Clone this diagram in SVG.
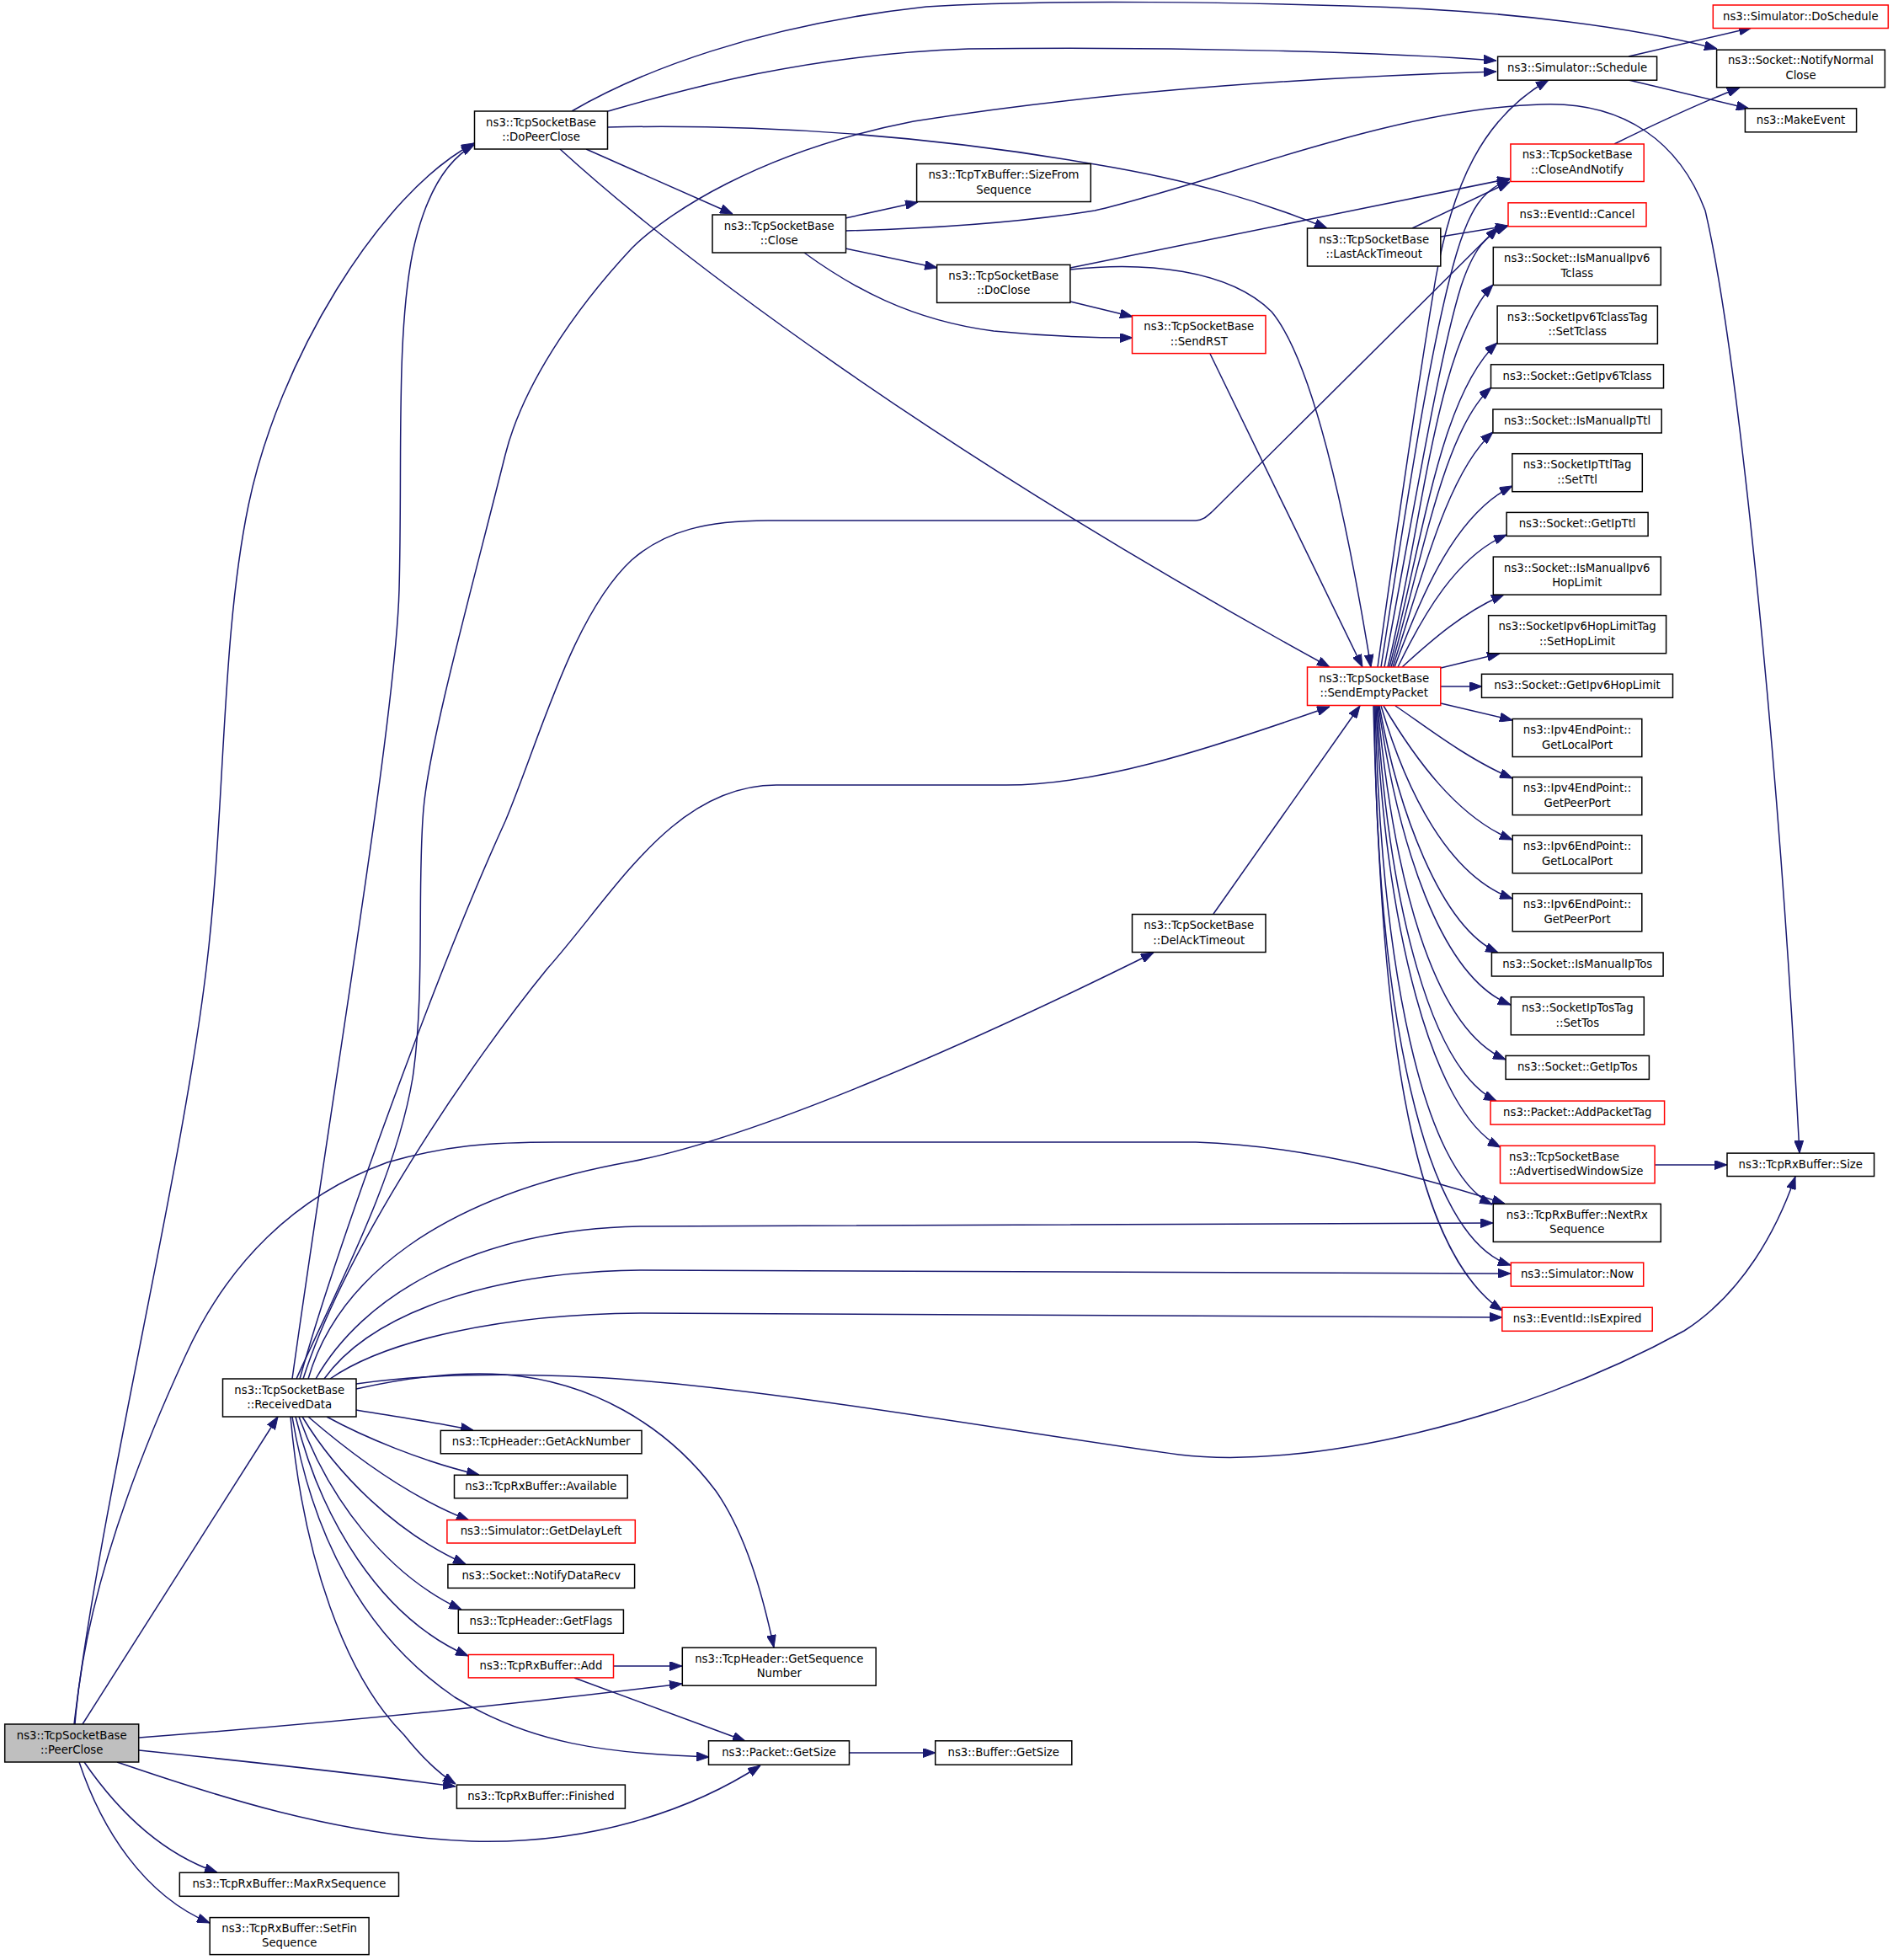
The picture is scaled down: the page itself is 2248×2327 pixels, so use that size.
<svg xmlns="http://www.w3.org/2000/svg" width="2248" height="2327" viewBox="0 0 2248 2327">
<defs>
<marker id="a" markerUnits="userSpaceOnUse" markerWidth="15" markerHeight="11" viewBox="0 0 15 11" refX="15" refY="5.5" orient="auto"><path d="M0,0 L15,5.5 L0,11 z" fill="#191970" stroke="#191970" stroke-width="1"/></marker>
</defs>
<style>
.n rect{fill:#fff;stroke:#000;stroke-width:1.5}
.r rect{fill:#fff;stroke:#ff0000;stroke-width:1.5}
.g rect{fill:#bfbfbf;stroke:#000;stroke-width:1.5}
text{font-family:"DejaVu Sans","Liberation Sans",sans-serif;font-size:13.25px;fill:#000;text-anchor:middle}
text.l{text-anchor:start}
#edges path{fill:none;stroke:#191970;stroke-width:1.5;marker-end:url(#a)}
</style>
<rect width="2248" height="2327" fill="#fff"/>
<g id="edges">
<path d="M88,2047 C120,1780 215,1400 245,1150 C268,960 262,760 295,600 C330,430 450,230 563,170"/>
<path d="M347,1637 C400,1260 470,850 474,700 C478,550 470,400 490,300 C505,230 530,190 563,172"/>
<path d="M352,1637 C400,1530 470,1400 490,1280 C505,1180 495,1050 503,960 C510,880 560,700 600,540 C620,460 680,370 750,295 C790,255 900,180 1085,144 C1300,110 1550,92 1777,85"/>
<path d="M356,1637 C400,1480 520,1150 600,975 C640,880 680,730 750,665 C790,630 840,618 912,618 L1420,618 C1428,618 1432,614 1440,607 L1779,270"/>
<path d="M360,1637 C410,1480 560,1260 650,1150 C730,1060 800,932 922,932 L1195,932 C1300,932 1420,895 1579,839"/>
<path d="M366,1637 C400,1520 520,1420 750,1379 C900,1350 1150,1240 1370,1131"/>
<path d="M375,1637 C430,1540 560,1460 760,1456 L1773,1452"/>
<path d="M385,1637 C440,1560 580,1510 760,1508 L1794,1512"/>
<path d="M392,1637 C460,1590 600,1560 760,1559 L1784,1564"/>
<path d="M423,1643 C500,1632 600,1630 700,1635 C900,1645 1200,1700 1400,1727 C1550,1745 1800,1690 2000,1580 C2070,1535 2110,1460 2132,1397"/>
<path d="M423,1649 C480,1636 540,1628 600,1632 C700,1640 790,1690 850,1770 C885,1820 905,1890 919,1956"/>
<path d="M423,1674 C470,1682 520,1689 562,1698"/>
<path d="M388,1682 C430,1705 500,1735 569,1751"/>
<path d="M366,1682 C410,1720 480,1775 557,1805"/>
<path d="M359,1682 C400,1750 470,1820 553,1857"/>
<path d="M355,1682 C390,1780 460,1870 548,1911"/>
<path d="M351,1682 C380,1800 450,1920 556,1966"/>
<path d="M347,1682 C370,1820 430,1940 540,2015 C630,2070 720,2082 842,2086"/>
<path d="M345,1682 C360,1850 410,1990 480,2060 C500,2085 520,2105 541,2118"/>
<path d="M98,2047 L330,1682"/>
<path d="M89,2047 C100,1900 160,1740 220,1610 C270,1500 350,1420 460,1380 C530,1360 580,1356 660,1356 L1420,1356 C1550,1360 1680,1395 1787,1429"/>
<path d="M165,2063 C400,2045 600,2025 810,1999"/>
<path d="M165,2078 C300,2092 430,2106 541,2121"/>
<path d="M139,2092 C250,2130 400,2180 560,2186 C700,2190 820,2150 903,2096"/>
<path d="M100,2092 C140,2150 190,2200 258,2223"/>
<path d="M94,2092 C120,2170 170,2250 249,2283"/>
<path d="M679,132 C760,85 900,30 1100,8 C1250,-2 1500,4 1600,7 C1800,12 1950,35 2039,58"/>
<path d="M722,132 C800,110 950,65 1150,58 C1400,55 1650,62 1777,72"/>
<path d="M722,151 C900,147 1100,160 1300,195 C1420,215 1500,240 1576,271"/>
<path d="M696,177 L870,254"/>
<path d="M665,177 C800,300 1100,530 1579,792"/>
<path d="M1004,259 L1090,240"/>
<path d="M1004,295 L1113,318"/>
<path d="M955,300 C1010,340 1080,380 1180,393 C1250,400 1300,401 1345,401"/>
<path d="M1004,274 C1150,270 1250,258 1300,250 C1450,215 1650,130 1830,124 C1930,120 1995,170 2025,250 C2060,400 2110,850 2137,1369"/>
<path d="M1271,358 L1345,376"/>
<path d="M1271,318 L1793,212"/>
<path d="M1271,320 C1360,310 1460,320 1510,370 C1560,430 1600,620 1628,792"/>
<path d="M1437,420 L1618,792"/>
<path d="M1441,1085 L1615,838"/>
<path d="M1677,271 L1793,216"/>
<path d="M1711,281 L1791,268"/>
<path d="M1934,67 L2080,33"/>
<path d="M1934,95 L2077,129"/>
<path d="M1917,171 C1970,145 2020,122 2066,104"/>
<path d="M1965,1383 L2051,1383"/>
<path d="M729,1978 L810,1978"/>
<path d="M682,1992 L885,2067"/>
<path d="M1009,2081 L1111,2081"/>
<path d="M1636,792 C1660,620 1680,480 1705,330 C1725,220 1760,140 1839,95"/>
<path d="M1640,792 C1670,600 1700,400 1730,300 C1745,250 1760,225 1793,213"/>
<path d="M1644,792 C1680,600 1710,420 1735,340 C1750,295 1765,278 1791,268"/>
<path d="M1648,792 C1690,620 1705,410 1773,338"/>
<path d="M1650,792 C1690,640 1710,470 1778,407"/>
<path d="M1652,792 C1690,660 1715,510 1771,460"/>
<path d="M1654,792 C1690,680 1720,560 1773,513"/>
<path d="M1656,792 C1690,700 1730,610 1796,577"/>
<path d="M1660,792 C1690,730 1730,660 1789,635"/>
<path d="M1665,792 C1700,760 1740,725 1786,706"/>
<path d="M1711,793 L1781,776"/>
<path d="M1711,815 L1760,815"/>
<path d="M1711,835 L1796,855"/>
<path d="M1657,838 C1690,860 1740,900 1796,924"/>
<path d="M1643,838 C1680,900 1730,970 1796,997"/>
<path d="M1640,838 C1670,940 1720,1040 1796,1067"/>
<path d="M1638,838 C1660,960 1710,1100 1779,1131"/>
<path d="M1637,838 C1660,1000 1710,1160 1794,1193"/>
<path d="M1636,838 C1655,1040 1700,1220 1788,1258"/>
<path d="M1635,838 C1650,1080 1700,1270 1777,1307"/>
<path d="M1634,838 C1645,1100 1700,1320 1782,1362"/>
<path d="M1633,838 C1640,1150 1690,1390 1772,1430"/>
<path d="M1632,838 C1635,1200 1690,1470 1794,1502"/>
<path d="M1631,838 C1640,1200 1670,1480 1784,1556"/>
</g>
<g id="PeerClose" class="g"><rect x="5.7" y="2047" width="159" height="45"/><text x="85.2" y="2064.5">ns3::TcpSocketBase</text><text x="85.2" y="2082">::PeerClose</text></g>
<g id="DoPeerClose" class="n"><rect x="563.5" y="132" width="158" height="45"/><text x="642.5" y="149.5">ns3::TcpSocketBase</text><text x="642.5" y="167">::DoPeerClose</text></g>
<g id="ReceivedData" class="n"><rect x="264.5" y="1637" width="158.5" height="45"/><text x="343.75" y="1654.5">ns3::TcpSocketBase</text><text x="343.75" y="1672">::ReceivedData</text></g>
<g id="Close" class="n"><rect x="846" y="255" width="158.5" height="45"/><text x="925.25" y="272.5">ns3::TcpSocketBase</text><text x="925.25" y="290">::Close</text></g>
<g id="SizeFromSequence" class="n"><rect x="1088.6" y="194.5" width="206.7" height="45"/><text x="1191.95" y="212">ns3::TcpTxBuffer::SizeFrom</text><text x="1191.95" y="229.5">Sequence</text></g>
<g id="DoClose" class="n"><rect x="1112.6" y="314.4" width="158.3" height="45"/><text x="1191.75" y="331.9">ns3::TcpSocketBase</text><text x="1191.75" y="349.4">::DoClose</text></g>
<g id="SendRST" class="r"><rect x="1344.5" y="374.6" width="158.5" height="45"/><text x="1423.75" y="392.1">ns3::TcpSocketBase</text><text x="1423.75" y="409.6">::SendRST</text></g>
<g id="LastAckTimeout" class="n"><rect x="1552.5" y="271" width="158.3" height="45"/><text x="1631.65" y="288.5">ns3::TcpSocketBase</text><text x="1631.65" y="306">::LastAckTimeout</text></g>
<g id="SendEmptyPacket" class="r"><rect x="1552.5" y="792" width="158.3" height="45.5"/><text x="1631.65" y="809.75">ns3::TcpSocketBase</text><text x="1631.65" y="827.25">::SendEmptyPacket</text></g>
<g id="DelAckTimeout" class="n"><rect x="1344.5" y="1085.5" width="158.5" height="45"/><text x="1423.75" y="1103">ns3::TcpSocketBase</text><text x="1423.75" y="1120.5">::DelAckTimeout</text></g>
<g id="Schedule" class="n"><rect x="1778.6" y="67.2" width="189" height="28"/><text x="1873.1" y="85.2">ns3::Simulator::Schedule</text></g>
<g id="DoSchedule" class="r"><rect x="2034.3" y="6" width="208" height="27.5"/><text x="2138.3" y="23.75">ns3::Simulator::DoSchedule</text></g>
<g id="NotifyNormalClose" class="n"><rect x="2038.6" y="59.2" width="199.8" height="44.5"/><text x="2138.5" y="76.45">ns3::Socket::NotifyNormal</text><text x="2138.5" y="93.95">Close</text></g>
<g id="MakeEvent" class="n"><rect x="2072.4" y="128.8" width="132.2" height="28"/><text x="2138.5" y="146.8">ns3::MakeEvent</text></g>
<g id="CloseAndNotify" class="r"><rect x="1793.9" y="171" width="158.3" height="44.5"/><text x="1873.05" y="188.25">ns3::TcpSocketBase</text><text x="1873.05" y="205.75">::CloseAndNotify</text></g>
<g id="Cancel" class="r"><rect x="1791" y="240.8" width="164" height="28"/><text x="1873" y="258.8">ns3::EventId::Cancel</text></g>
<g id="IsManualIpv6Tclass" class="n"><rect x="1773.3" y="293.5" width="199" height="45"/><text x="1872.8" y="311">ns3::Socket::IsManualIpv6</text><text x="1872.8" y="328.5">Tclass</text></g>
<g id="SetTclass" class="n"><rect x="1778.1" y="363.1" width="190.3" height="45"/><text x="1873.25" y="380.6">ns3::SocketIpv6TclassTag</text><text x="1873.25" y="398.1">::SetTclass</text></g>
<g id="GetIpv6Tclass" class="n"><rect x="1770.5" y="432.8" width="205" height="28"/><text x="1873" y="450.8">ns3::Socket::GetIpv6Tclass</text></g>
<g id="IsManualIpTtl" class="n"><rect x="1772.9" y="486" width="200.3" height="28"/><text x="1873.05" y="504">ns3::Socket::IsManualIpTtl</text></g>
<g id="SetTtl" class="n"><rect x="1795.8" y="538.7" width="154.5" height="45"/><text x="1873.05" y="556.2">ns3::SocketIpTtlTag</text><text x="1873.05" y="573.7">::SetTtl</text></g>
<g id="GetIpTtl" class="n"><rect x="1789.1" y="608.4" width="168" height="28"/><text x="1873.1" y="626.4">ns3::Socket::GetIpTtl</text></g>
<g id="IsManualIpv6HopLimit" class="n"><rect x="1773.3" y="661.1" width="199" height="45"/><text x="1872.8" y="678.6">ns3::Socket::IsManualIpv6</text><text x="1872.8" y="696.1">HopLimit</text></g>
<g id="SetHopLimit" class="n"><rect x="1767.6" y="730.7" width="211" height="45"/><text x="1873.1" y="748.2">ns3::SocketIpv6HopLimitTag</text><text x="1873.1" y="765.7">::SetHopLimit</text></g>
<g id="GetIpv6HopLimit" class="n"><rect x="1759.5" y="800.3" width="227" height="28"/><text x="1873" y="818.3">ns3::Socket::GetIpv6HopLimit</text></g>
<g id="Ipv4GetLocalPort" class="n"><rect x="1796.2" y="853.5" width="153.6" height="45"/><text x="1873" y="871">ns3::Ipv4EndPoint::</text><text x="1873" y="888.5">GetLocalPort</text></g>
<g id="Ipv4GetPeerPort" class="n"><rect x="1796.2" y="922.6" width="153.6" height="45"/><text x="1873" y="940.1">ns3::Ipv4EndPoint::</text><text x="1873" y="957.6">GetPeerPort</text></g>
<g id="Ipv6GetLocalPort" class="n"><rect x="1796.2" y="991.7" width="153.6" height="45"/><text x="1873" y="1009.2">ns3::Ipv6EndPoint::</text><text x="1873" y="1026.7">GetLocalPort</text></g>
<g id="Ipv6GetPeerPort" class="n"><rect x="1796.2" y="1060.8" width="153.6" height="45"/><text x="1873" y="1078.3">ns3::Ipv6EndPoint::</text><text x="1873" y="1095.8">GetPeerPort</text></g>
<g id="IsManualIpTos" class="n"><rect x="1771.4" y="1131" width="203.7" height="28"/><text x="1873.25" y="1149">ns3::Socket::IsManualIpTos</text></g>
<g id="SetTos" class="n"><rect x="1794.3" y="1183.7" width="158" height="45"/><text x="1873.3" y="1201.2">ns3::SocketIpTosTag</text><text x="1873.3" y="1218.7">::SetTos</text></g>
<g id="GetIpTos" class="n"><rect x="1788.1" y="1253.4" width="170.3" height="28"/><text x="1873.25" y="1271.4">ns3::Socket::GetIpTos</text></g>
<g id="AddPacketTag" class="r"><rect x="1770" y="1307.1" width="206.6" height="28"/><text x="1873.3" y="1325.1">ns3::Packet::AddPacketTag</text></g>
<g id="AdvertisedWindowSize" class="r"><rect x="1781.5" y="1360.3" width="183.6" height="44.5"/><text class="l" x="1792" y="1377.55">ns3::TcpSocketBase</text><text class="l" x="1792" y="1395.05">::AdvertisedWindowSize</text></g>
<g id="RxSize" class="n"><rect x="2051" y="1369.1" width="174.6" height="27.4"/><text x="2138.3" y="1386.8">ns3::TcpRxBuffer::Size</text></g>
<g id="NextRxSequence" class="n"><rect x="1773.3" y="1429.4" width="199" height="45"/><text x="1872.8" y="1446.9">ns3::TcpRxBuffer::NextRx</text><text x="1872.8" y="1464.4">Sequence</text></g>
<g id="Now" class="r"><rect x="1794.3" y="1499.1" width="157.4" height="28"/><text x="1873" y="1517.1">ns3::Simulator::Now</text></g>
<g id="IsExpired" class="r"><rect x="1783.8" y="1552.3" width="178.4" height="28"/><text x="1873" y="1570.3">ns3::EventId::IsExpired</text></g>
<g id="GetAckNumber" class="n"><rect x="523.3" y="1698.4" width="238.7" height="27.4"/><text x="642.65" y="1716.1">ns3::TcpHeader::GetAckNumber</text></g>
<g id="Available" class="n"><rect x="539.5" y="1751.3" width="205.7" height="27.4"/><text x="642.35" y="1769">ns3::TcpRxBuffer::Available</text></g>
<g id="GetDelayLeft" class="r"><rect x="530.9" y="1804.6" width="223.4" height="27.4"/><text x="642.6" y="1822.3">ns3::Simulator::GetDelayLeft</text></g>
<g id="NotifyDataRecv" class="n"><rect x="531.9" y="1857.4" width="221.7" height="28"/><text x="642.75" y="1875.4">ns3::Socket::NotifyDataRecv</text></g>
<g id="GetFlags" class="n"><rect x="544.3" y="1911.2" width="196.1" height="28"/><text x="642.35" y="1929.2">ns3::TcpHeader::GetFlags</text></g>
<g id="RxAdd" class="r"><rect x="556.3" y="1964.5" width="172.2" height="27.4"/><text x="642.4" y="1982.2">ns3::TcpRxBuffer::Add</text></g>
<g id="GetSequenceNumber" class="n"><rect x="810.3" y="1956.2" width="229.9" height="45"/><text x="925.25" y="1973.7">ns3::TcpHeader::GetSequence</text><text x="925.25" y="1991.2">Number</text></g>
<g id="PacketGetSize" class="n"><rect x="841.5" y="2066.8" width="167" height="28.4"/><text x="925" y="2085">ns3::Packet::GetSize</text></g>
<g id="BufferGetSize" class="n"><rect x="1110.7" y="2066.8" width="162.1" height="28.4"/><text x="1191.75" y="2085">ns3::Buffer::GetSize</text></g>
<g id="Finished" class="n"><rect x="542.4" y="2119.1" width="200" height="28"/><text x="642.4" y="2137.1">ns3::TcpRxBuffer::Finished</text></g>
<g id="MaxRxSequence" class="n"><rect x="213.3" y="2223.3" width="260.2" height="28"/><text x="343.4" y="2241.3">ns3::TcpRxBuffer::MaxRxSequence</text></g>
<g id="SetFinSequence" class="n"><rect x="249.2" y="2276.6" width="188.9" height="44"/><text x="343.65" y="2293.6">ns3::TcpRxBuffer::SetFin</text><text x="343.65" y="2311.1">Sequence</text></g>
</svg>
